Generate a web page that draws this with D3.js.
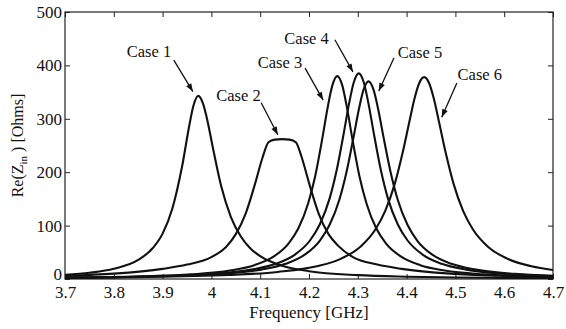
<!DOCTYPE html>
<html><head><meta charset="utf-8">
<script src="https://cdn.jsdelivr.net/npm/d3@7/dist/d3.min.js"></script>
<style>body{margin:0;background:#fff}svg{display:block}text{font-family:"Liberation Serif","Times New Roman",serif;fill:#111}</style>
</head><body><svg id="c" width="566" height="329"></svg>
<script>
const xTicks = [3.7,3.8,3.9,4,4.1,4.2,4.3,4.4,4.5,4.6,4.7];
const yTicks = [0,100,200,300,400,500];
const seriesNames = ["Case 1","Case 2","Case 3","Case 4","Case 5","Case 6"];
const case1F = [3.70,3.75,3.80,3.85,3.88,3.90,3.92,3.94,3.955,3.963,3.973,3.983,3.99,4.005,4.02,4.04,4.06,4.08,4.10,4.15,4.20,4.30,4.40,4.50,4.60,4.70];
const case1R = [7.9,11.7,19,35.7,58,85,132,211,289,324,343,328,304,237,174,116,80,57,42.7,23.4,14.6,7.2,4.3,2.9,2.0,1.5];
const case2F = [3.70,3.80,3.90,3.95,4.00,4.03,4.05,4.07,4.09,4.105,4.117,4.13,4.145,4.16,4.173,4.185,4.20,4.22,4.24,4.26,4.29,4.34,4.39,4.49,4.59,4.70];
const case2R = [6,10,19,27,41,60,84,122,180,228,256,261,262,261,256,228,180,122,84,62,41,27,19,10,6,4];
const case3F = [3.70,3.858,3.958,4.038,4.088,4.128,4.158,4.178,4.198,4.213,4.228,4.238,4.248,4.258,4.268,4.278,4.288,4.303,4.318,4.338,4.358,4.388,4.428,4.478,4.558,4.658,4.70];
const case3R = [2.6,5.0,8.7,15.9,25.9,42.3,66.3,94.5,141,194,267,320,363,380,363,320,267,194,141,94.5,66.3,42.3,25.9,15.9,8.7,5.0,4.1];
const case4F = [3.70,3.902,4.002,4.082,4.132,4.172,4.202,4.222,4.242,4.257,4.272,4.282,4.292,4.302,4.312,4.322,4.332,4.347,4.362,4.382,4.402,4.432,4.472,4.522,4.602,4.70];
const case4R = [2.4,5.5,9.6,17.5,28.4,46.2,72.1,102,150,205,277,328,369,385,369,328,277,205,150,102,72.1,46.2,28.4,17.5,9.6,5.5];
const case5F = [3.70,3.922,4.022,4.102,4.152,4.192,4.222,4.242,4.262,4.277,4.292,4.302,4.312,4.322,4.332,4.342,4.352,4.367,4.382,4.402,4.422,4.452,4.492,4.542,4.622,4.70];
const case5R = [2.3,5.5,9.6,17.5,28.4,46,71.6,101,148,201,269,317,355,370,355,317,269,201,148,101,71.6,46,28.4,17.5,9.6,6.1];
const case6F = [3.70,3.836,4.036,4.136,4.216,4.266,4.306,4.336,4.356,4.376,4.391,4.406,4.416,4.426,4.436,4.446,4.456,4.466,4.481,4.496,4.516,4.536,4.566,4.606,4.656,4.70];
const case6R = [2.3,3.4,7.5,13.2,23.8,38.2,61,92.7,127,179,233,296,337,367,378,367,337,296,233,179,127,92.7,61,38.2,23.8,16.8];
// annotation anchors in data units: label position, arrow tail and arrow tip
const annLabelF = [3.872,4.0555,4.1406,4.195,4.4275,4.550];
const annLabelR = [416,333,395,440,414,373];
const annTailF = [3.923,4.102,4.192,4.253,4.374,4.503];
const annTailR = [410,330,395,448,414,367];
const annTipF = [3.962,4.136,4.229,4.290,4.343,4.472];
const annTipR = [351,270,335,388,352,303];

const svg = d3.select("#c");
const M = {l:65, r:553, t:12, b:279};
const x = d3.scaleLinear().domain([3.7,4.7]).range([M.l,M.r]);
const y = d3.scaleLinear().domain([0,500]).range([M.b,M.t]);

const defs = svg.append("defs");
defs.append("marker").attr("id","ah").attr("viewBox","0 0 10 10").attr("refX",10).attr("refY",5)
  .attr("markerWidth",10).attr("markerHeight",8).attr("markerUnits","userSpaceOnUse").attr("orient","auto")
  .append("path").attr("d","M0,1.3 L10,5 L0,8.7 Z").attr("fill","#111");
defs.append("clipPath").attr("id","clip").append("rect").attr("x",M.l).attr("y",M.t).attr("width",M.r-M.l).attr("height",M.b-M.t);

const gx = svg.append("g").attr("transform",`translate(0,${M.b})`)
  .call(d3.axisBottom(x).tickValues(xTicks).tickFormat(d3.format("")).tickSizeInner(-5).tickSizeOuter(0).tickPadding(7));
const gxt = svg.append("g").attr("transform",`translate(0,${M.t})`)
  .call(d3.axisTop(x).tickValues(xTicks).tickFormat("").tickSizeInner(-5).tickSizeOuter(0));
const gy = svg.append("g").attr("transform",`translate(${M.l},0)`)
  .call(d3.axisLeft(y).tickValues(yTicks).tickSizeInner(-5).tickSizeOuter(0).tickPadding(3));
const gyr = svg.append("g").attr("transform",`translate(${M.r},0)`)
  .call(d3.axisRight(y).tickValues(yTicks).tickFormat("").tickSizeInner(-5).tickSizeOuter(0));
[gx,gxt,gy,gyr].forEach(g=>{g.select(".domain").remove();g.selectAll("line").attr("stroke","#222").attr("stroke-width",1);});
gx.selectAll("text").attr("font-size",17).attr("fill","#111").attr("font-family","Liberation Serif");
gy.selectAll("text").attr("font-size",17).attr("fill","#111").attr("font-family","Liberation Serif");
gy.selectAll("text").filter(d=>d===0).attr("dy","0.05em");
svg.append("rect").attr("x",M.l).attr("y",M.t).attr("width",M.r-M.l).attr("height",M.b-M.t)
  .attr("fill","none").attr("stroke","#222").attr("stroke-width",1.2);

const allF = [case1F,case2F,case3F,case4F,case5F,case6F];
const allR = [case1R,case2R,case3R,case4R,case5R,case6R];
const line = d3.line().x(d=>x(d[0])).y(d=>y(d[1])).curve(d3.curveMonotoneX);
const gl = svg.append("g").attr("clip-path","url(#clip)");
allF.forEach((F,i)=>{
  gl.append("path").datum(F.map((f,j)=>[f,allR[i][j]])).attr("d",line)
    .attr("fill","none").attr("stroke","#111").attr("stroke-width",2.1).attr("stroke-linejoin","round");
});

seriesNames.forEach((n,i)=>{
  svg.append("text").attr("x",x(annLabelF[i])).attr("y",y(annLabelR[i])).attr("text-anchor","middle")
    .attr("font-size",16.5).text(n);
  svg.append("line").attr("x1",x(annTailF[i])).attr("y1",y(annTailR[i])).attr("x2",x(annTipF[i])).attr("y2",y(annTipR[i]))
    .attr("stroke","#111").attr("stroke-width",1.3).attr("marker-end","url(#ah)");
});

svg.append("text").attr("x",(M.l+M.r)/2).attr("y",318).attr("text-anchor","middle").attr("font-size",17).text("Frequency [GHz]");
const yl = svg.append("text").attr("transform",`translate(23,${(M.t+M.b)/2}) rotate(-90)`).attr("text-anchor","middle").attr("font-size",16);
yl.append("tspan").text("Re(Z");
yl.append("tspan").attr("font-size",11).attr("dy",4).text("in");
yl.append("tspan").attr("dy",-4).text(" ) [Ohms]");
</script></body></html>
